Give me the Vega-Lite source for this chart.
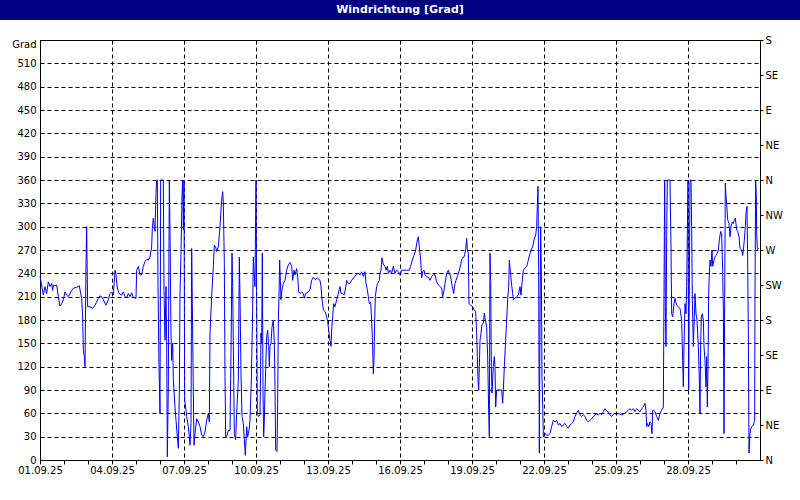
{
  "$schema": "https://vega.github.io/schema/vega-lite/v6.json",
  "padding": 0,
  "background": "white",
  "bounds": "flush",
  "center": true,
  "spacing": 20,
  "config": {
    "font": "DejaVu Sans",
    "view": {"stroke": null},
    "axis": {
      "labelFont": "DejaVu Sans", "labelFontSize": 10, "labelColor": "black",
      "titleFont": "DejaVu Sans", "titleFontSize": 10, "titleFontWeight": "normal", "titleColor": "black",
      "domainColor": "black", "tickColor": "black", "gridColor": "black"
    }
  },
  "vconcat": [
    {
      "width": 800, "height": 20,
      "view": {"fill": "#000080", "stroke": null},
      "data": {"values": [{"title": "Windrichtung [Grad]"}]},
      "mark": {"type": "text", "color": "white", "fontWeight": "bold", "fontSize": 11, "font": "DejaVu Sans", "align": "center", "baseline": "middle"},
      "encoding": {"text": {"field": "title", "type": "nominal"}}
    },
    {
      "width": 720, "height": 420,
      "view": {"stroke": "black", "strokeWidth": 1, "fill": "white"},
      "data": {"values": [
{"t":"2025-09-01T00:00","v":236},{"t":"2025-09-01T01:40","v":225},{"t":"2025-09-01T03:20","v":212},{"t":"2025-09-01T05:00","v":223},{"t":"2025-09-01T06:40","v":214},{"t":"2025-09-01T08:20","v":229},{"t":"2025-09-01T10:00","v":223},{"t":"2025-09-01T11:40","v":227},{"t":"2025-09-01T12:40","v":218},{"t":"2025-09-01T13:20","v":225},{"t":"2025-09-01T15:00","v":224},{"t":"2025-09-01T16:40","v":225},{"t":"2025-09-01T18:20","v":210},{"t":"2025-09-01T20:00","v":198},{"t":"2025-09-01T21:40","v":201},{"t":"2025-09-01T23:20","v":206},
{"t":"2025-09-02T01:00","v":216},{"t":"2025-09-02T02:40","v":212},{"t":"2025-09-02T04:20","v":210},{"t":"2025-09-02T06:00","v":214},{"t":"2025-09-02T07:40","v":218},{"t":"2025-09-02T09:20","v":221},{"t":"2025-09-02T12:40","v":222},{"t":"2025-09-02T15:20","v":224},{"t":"2025-09-02T16:40","v":214},{"t":"2025-09-02T17:40","v":208},{"t":"2025-09-02T18:40","v":184},{"t":"2025-09-02T19:20","v":141},{"t":"2025-09-02T20:20","v":133},{"t":"2025-09-02T21:00","v":120},{"t":"2025-09-02T22:00","v":253},{"t":"2025-09-02T22:40","v":300},{"t":"2025-09-02T23:40","v":197},
{"t":"2025-09-03T02:00","v":197},{"t":"2025-09-03T04:40","v":195},{"t":"2025-09-03T07:00","v":199},{"t":"2025-09-03T10:20","v":208},{"t":"2025-09-03T12:00","v":211},{"t":"2025-09-03T13:40","v":210},{"t":"2025-09-03T15:20","v":206},{"t":"2025-09-03T18:00","v":199},{"t":"2025-09-03T20:20","v":206},{"t":"2025-09-03T22:00","v":214},{"t":"2025-09-03T23:40","v":216},
{"t":"2025-09-04T01:20","v":212},{"t":"2025-09-04T03:00","v":244},{"t":"2025-09-04T04:00","v":238},{"t":"2025-09-04T05:20","v":221},{"t":"2025-09-04T07:00","v":214},{"t":"2025-09-04T09:40","v":212},{"t":"2025-09-04T11:20","v":216},{"t":"2025-09-04T13:00","v":210},{"t":"2025-09-04T14:40","v":209},{"t":"2025-09-04T16:20","v":214},{"t":"2025-09-04T18:00","v":210},{"t":"2025-09-04T19:40","v":215},{"t":"2025-09-04T21:20","v":209},
{"t":"2025-09-05T00:00","v":208},{"t":"2025-09-05T00:40","v":244},{"t":"2025-09-05T02:20","v":249},{"t":"2025-09-05T04:00","v":238},{"t":"2025-09-05T05:40","v":238},{"t":"2025-09-05T07:20","v":249},{"t":"2025-09-05T09:00","v":255},{"t":"2025-09-05T10:40","v":258},{"t":"2025-09-05T12:20","v":257},{"t":"2025-09-05T14:00","v":261},{"t":"2025-09-05T15:40","v":274},{"t":"2025-09-05T16:20","v":298},{"t":"2025-09-05T17:20","v":311},{"t":"2025-09-05T18:20","v":300},{"t":"2025-09-05T19:00","v":294},{"t":"2025-09-05T20:00","v":343},{"t":"2025-09-05T20:40","v":360},{"t":"2025-09-05T21:20","v":360},{"t":"2025-09-05T22:00","v":223},{"t":"2025-09-05T23:00","v":120},
{"t":"2025-09-06T00:00","v":60},{"t":"2025-09-06T00:40","v":360},{"t":"2025-09-06T03:20","v":360},{"t":"2025-09-06T04:00","v":218},{"t":"2025-09-06T05:00","v":154},{"t":"2025-09-06T06:00","v":223},{"t":"2025-09-06T06:40","v":154},{"t":"2025-09-06T07:20","v":4},{"t":"2025-09-06T08:20","v":94},{"t":"2025-09-06T08:40","v":193},{"t":"2025-09-06T09:20","v":360},{"t":"2025-09-06T10:00","v":294},{"t":"2025-09-06T11:00","v":163},{"t":"2025-09-06T11:40","v":128},{"t":"2025-09-06T12:40","v":150},{"t":"2025-09-06T13:20","v":103},{"t":"2025-09-06T15:00","v":68},{"t":"2025-09-06T16:00","v":51},{"t":"2025-09-06T17:20","v":30},{"t":"2025-09-06T18:20","v":15},{"t":"2025-09-06T19:20","v":86},{"t":"2025-09-06T20:00","v":214},{"t":"2025-09-06T21:00","v":266},{"t":"2025-09-06T22:00","v":339},{"t":"2025-09-06T22:40","v":360},{"t":"2025-09-06T23:20","v":296},
{"t":"2025-09-07T00:00","v":360},{"t":"2025-09-07T00:40","v":77},{"t":"2025-09-07T01:40","v":68},{"t":"2025-09-07T02:40","v":56},{"t":"2025-09-07T04:20","v":43},{"t":"2025-09-07T05:20","v":30},{"t":"2025-09-07T06:00","v":19},{"t":"2025-09-07T07:00","v":47},{"t":"2025-09-07T07:40","v":272},{"t":"2025-09-07T08:20","v":201},{"t":"2025-09-07T09:20","v":86},{"t":"2025-09-07T10:00","v":19},{"t":"2025-09-07T11:00","v":34},{"t":"2025-09-07T12:40","v":53},{"t":"2025-09-07T14:20","v":49},{"t":"2025-09-07T16:00","v":43},{"t":"2025-09-07T17:40","v":32},{"t":"2025-09-07T19:20","v":30},{"t":"2025-09-07T21:00","v":36},{"t":"2025-09-07T22:40","v":51},
{"t":"2025-09-08T00:20","v":60},{"t":"2025-09-08T01:20","v":49},{"t":"2025-09-08T02:00","v":163},{"t":"2025-09-08T03:40","v":210},{"t":"2025-09-08T05:20","v":249},{"t":"2025-09-08T06:20","v":276},{"t":"2025-09-08T07:40","v":274},{"t":"2025-09-08T08:40","v":268},{"t":"2025-09-08T10:20","v":274},{"t":"2025-09-08T12:00","v":300},{"t":"2025-09-08T13:40","v":334},{"t":"2025-09-08T14:40","v":345},{"t":"2025-09-08T15:20","v":330},{"t":"2025-09-08T16:20","v":253},{"t":"2025-09-08T17:00","v":107},{"t":"2025-09-08T17:40","v":30},{"t":"2025-09-08T18:40","v":30},{"t":"2025-09-08T20:20","v":38},{"t":"2025-09-08T22:00","v":38},{"t":"2025-09-08T23:00","v":137},
{"t":"2025-09-09T00:00","v":266},{"t":"2025-09-09T00:40","v":223},{"t":"2025-09-09T01:20","v":146},{"t":"2025-09-09T02:20","v":34},{"t":"2025-09-09T03:40","v":26},{"t":"2025-09-09T04:40","v":60},{"t":"2025-09-09T06:20","v":103},{"t":"2025-09-09T07:20","v":261},{"t":"2025-09-09T08:00","v":210},{"t":"2025-09-09T09:00","v":111},{"t":"2025-09-09T10:00","v":56},{"t":"2025-09-09T11:20","v":47},{"t":"2025-09-09T12:20","v":26},{"t":"2025-09-09T13:20","v":6},{"t":"2025-09-09T14:40","v":43},{"t":"2025-09-09T15:40","v":30},{"t":"2025-09-09T17:00","v":38},{"t":"2025-09-09T18:00","v":51},{"t":"2025-09-09T19:20","v":103},{"t":"2025-09-09T20:40","v":193},{"t":"2025-09-09T21:20","v":261},{"t":"2025-09-09T22:00","v":244},{"t":"2025-09-09T23:00","v":223},{"t":"2025-09-09T23:20","v":274},
{"t":"2025-09-10T00:00","v":360},{"t":"2025-09-10T00:40","v":201},{"t":"2025-09-10T01:20","v":60},{"t":"2025-09-10T02:20","v":56},{"t":"2025-09-10T04:00","v":58},{"t":"2025-09-10T05:00","v":163},{"t":"2025-09-10T05:40","v":150},{"t":"2025-09-10T06:20","v":266},{"t":"2025-09-10T07:00","v":90},{"t":"2025-09-10T07:40","v":30},{"t":"2025-09-10T08:20","v":51},{"t":"2025-09-10T09:00","v":90},{"t":"2025-09-10T09:40","v":116},{"t":"2025-09-10T10:40","v":159},{"t":"2025-09-10T11:40","v":167},{"t":"2025-09-10T12:40","v":146},{"t":"2025-09-10T13:20","v":120},{"t":"2025-09-10T14:00","v":146},{"t":"2025-09-10T15:00","v":150},{"t":"2025-09-10T16:00","v":171},{"t":"2025-09-10T17:20","v":180},{"t":"2025-09-10T18:20","v":150},{"t":"2025-09-10T19:00","v":94},{"t":"2025-09-10T19:40","v":13},{"t":"2025-09-10T21:00","v":11},{"t":"2025-09-10T21:40","v":73},{"t":"2025-09-10T22:20","v":180},{"t":"2025-09-10T23:00","v":210},{"t":"2025-09-10T23:40","v":257},
{"t":"2025-09-11T00:20","v":231},{"t":"2025-09-11T01:00","v":206},{"t":"2025-09-11T02:00","v":219},{"t":"2025-09-11T03:20","v":227},{"t":"2025-09-11T05:00","v":231},{"t":"2025-09-11T06:40","v":244},{"t":"2025-09-11T08:20","v":251},{"t":"2025-09-11T10:00","v":254},{"t":"2025-09-11T11:40","v":249},{"t":"2025-09-11T12:40","v":231},{"t":"2025-09-11T14:00","v":244},{"t":"2025-09-11T15:00","v":238},{"t":"2025-09-11T16:40","v":246},{"t":"2025-09-11T17:40","v":236},{"t":"2025-09-11T18:40","v":216},{"t":"2025-09-11T20:00","v":214},{"t":"2025-09-11T21:40","v":216},{"t":"2025-09-11T23:20","v":214},
{"t":"2025-09-12T00:20","v":208},{"t":"2025-09-12T01:40","v":214},{"t":"2025-09-12T04:20","v":216},{"t":"2025-09-12T06:00","v":219},{"t":"2025-09-12T07:40","v":231},{"t":"2025-09-12T09:20","v":235},{"t":"2025-09-12T11:00","v":232},{"t":"2025-09-12T13:20","v":234},{"t":"2025-09-12T16:00","v":231},{"t":"2025-09-12T17:00","v":223},{"t":"2025-09-12T18:00","v":206},{"t":"2025-09-12T19:20","v":193},{"t":"2025-09-12T21:00","v":191},{"t":"2025-09-12T22:40","v":184},{"t":"2025-09-12T23:40","v":178},
{"t":"2025-09-13T00:40","v":167},{"t":"2025-09-13T02:00","v":154},{"t":"2025-09-13T03:00","v":146},{"t":"2025-09-13T03:40","v":167},{"t":"2025-09-13T04:40","v":184},{"t":"2025-09-13T05:40","v":201},{"t":"2025-09-13T07:00","v":197},{"t":"2025-09-13T08:40","v":206},{"t":"2025-09-13T10:20","v":214},{"t":"2025-09-13T12:00","v":223},{"t":"2025-09-13T13:00","v":214},{"t":"2025-09-13T14:40","v":214},{"t":"2025-09-13T16:00","v":212},{"t":"2025-09-13T17:20","v":219},{"t":"2025-09-13T18:40","v":231},{"t":"2025-09-13T20:20","v":227},{"t":"2025-09-13T22:00","v":227},{"t":"2025-09-13T23:40","v":231},
{"t":"2025-09-14T01:20","v":234},{"t":"2025-09-14T03:00","v":236},{"t":"2025-09-14T04:40","v":239},{"t":"2025-09-14T06:20","v":240},{"t":"2025-09-14T08:00","v":238},{"t":"2025-09-14T09:40","v":242},{"t":"2025-09-14T11:20","v":236},{"t":"2025-09-14T13:00","v":242},{"t":"2025-09-14T14:00","v":227},{"t":"2025-09-14T15:20","v":219},{"t":"2025-09-14T16:20","v":210},{"t":"2025-09-14T17:20","v":201},{"t":"2025-09-14T18:40","v":203},{"t":"2025-09-14T19:40","v":180},{"t":"2025-09-14T20:40","v":146},{"t":"2025-09-14T21:20","v":111},{"t":"2025-09-14T22:00","v":128},{"t":"2025-09-14T22:40","v":180},{"t":"2025-09-14T23:20","v":210},
{"t":"2025-09-15T00:40","v":223},{"t":"2025-09-15T01:40","v":227},{"t":"2025-09-15T03:20","v":231},{"t":"2025-09-15T04:00","v":240},{"t":"2025-09-15T05:00","v":244},{"t":"2025-09-15T06:00","v":260},{"t":"2025-09-15T07:20","v":251},{"t":"2025-09-15T09:00","v":249},{"t":"2025-09-15T10:00","v":244},{"t":"2025-09-15T11:20","v":249},{"t":"2025-09-15T12:20","v":240},{"t":"2025-09-15T14:00","v":244},{"t":"2025-09-15T15:40","v":240},{"t":"2025-09-15T17:20","v":249},{"t":"2025-09-15T19:00","v":240},{"t":"2025-09-15T20:40","v":244},{"t":"2025-09-15T22:20","v":242},
{"t":"2025-09-16T00:00","v":238},{"t":"2025-09-16T01:40","v":244},{"t":"2025-09-16T06:40","v":244},{"t":"2025-09-16T09:20","v":244},{"t":"2025-09-16T10:40","v":249},{"t":"2025-09-16T12:20","v":257},{"t":"2025-09-16T14:00","v":263},{"t":"2025-09-16T15:40","v":270},{"t":"2025-09-16T17:20","v":283},{"t":"2025-09-16T18:20","v":287},{"t":"2025-09-16T19:20","v":274},{"t":"2025-09-16T20:40","v":257},{"t":"2025-09-16T21:40","v":234},{"t":"2025-09-16T22:40","v":242},
{"t":"2025-09-17T00:00","v":244},{"t":"2025-09-17T01:00","v":238},{"t":"2025-09-17T02:40","v":236},{"t":"2025-09-17T04:20","v":235},{"t":"2025-09-17T06:00","v":231},{"t":"2025-09-17T07:40","v":236},{"t":"2025-09-17T09:20","v":238},{"t":"2025-09-17T11:00","v":238},{"t":"2025-09-17T12:40","v":229},{"t":"2025-09-17T14:20","v":225},{"t":"2025-09-17T16:00","v":223},{"t":"2025-09-17T17:40","v":221},{"t":"2025-09-17T18:40","v":210},{"t":"2025-09-17T20:00","v":218},{"t":"2025-09-17T21:00","v":227},{"t":"2025-09-17T22:40","v":240},
{"t":"2025-09-18T00:20","v":244},{"t":"2025-09-18T01:20","v":240},{"t":"2025-09-18T02:40","v":236},{"t":"2025-09-18T03:40","v":227},{"t":"2025-09-18T04:40","v":221},{"t":"2025-09-18T05:40","v":214},{"t":"2025-09-18T07:00","v":227},{"t":"2025-09-18T08:00","v":231},{"t":"2025-09-18T09:20","v":236},{"t":"2025-09-18T11:20","v":244},{"t":"2025-09-18T12:40","v":251},{"t":"2025-09-18T14:00","v":259},{"t":"2025-09-18T16:00","v":261},{"t":"2025-09-18T17:40","v":270},{"t":"2025-09-18T18:40","v":285},{"t":"2025-09-18T19:20","v":270},{"t":"2025-09-18T20:20","v":266},{"t":"2025-09-18T21:00","v":201},{"t":"2025-09-18T22:40","v":199},
{"t":"2025-09-19T00:40","v":197},{"t":"2025-09-19T02:20","v":193},{"t":"2025-09-19T03:40","v":191},{"t":"2025-09-19T04:40","v":163},{"t":"2025-09-19T05:20","v":133},{"t":"2025-09-19T06:00","v":103},{"t":"2025-09-19T06:40","v":90},{"t":"2025-09-19T07:20","v":120},{"t":"2025-09-19T08:00","v":154},{"t":"2025-09-19T09:00","v":163},{"t":"2025-09-19T10:00","v":174},{"t":"2025-09-19T11:20","v":176},{"t":"2025-09-19T12:20","v":189},{"t":"2025-09-19T13:20","v":180},{"t":"2025-09-19T14:40","v":171},{"t":"2025-09-19T15:40","v":133},{"t":"2025-09-19T16:40","v":64},{"t":"2025-09-19T17:20","v":30},{"t":"2025-09-19T18:00","v":266},{"t":"2025-09-19T18:40","v":231},{"t":"2025-09-19T19:20","v":120},{"t":"2025-09-19T20:00","v":86},{"t":"2025-09-19T21:20","v":120},{"t":"2025-09-19T22:20","v":133},{"t":"2025-09-19T23:00","v":120},{"t":"2025-09-19T23:40","v":68},
{"t":"2025-09-20T00:40","v":90},{"t":"2025-09-20T04:00","v":90},{"t":"2025-09-20T05:40","v":90},{"t":"2025-09-20T06:40","v":73},{"t":"2025-09-20T07:20","v":90},{"t":"2025-09-20T08:20","v":120},{"t":"2025-09-20T09:20","v":146},{"t":"2025-09-20T10:40","v":180},{"t":"2025-09-20T11:40","v":206},{"t":"2025-09-20T12:40","v":223},{"t":"2025-09-20T13:20","v":257},{"t":"2025-09-20T14:00","v":247},{"t":"2025-09-20T15:40","v":225},{"t":"2025-09-20T16:40","v":214},{"t":"2025-09-20T17:20","v":206},{"t":"2025-09-20T19:00","v":208},{"t":"2025-09-20T20:40","v":210},{"t":"2025-09-20T22:20","v":212},
{"t":"2025-09-21T00:00","v":223},{"t":"2025-09-21T01:00","v":212},{"t":"2025-09-21T02:00","v":227},{"t":"2025-09-21T03:20","v":244},{"t":"2025-09-21T05:00","v":247},{"t":"2025-09-21T06:40","v":249},{"t":"2025-09-21T08:20","v":257},{"t":"2025-09-21T10:00","v":266},{"t":"2025-09-21T11:00","v":270},{"t":"2025-09-21T12:40","v":274},{"t":"2025-09-21T14:00","v":283},{"t":"2025-09-21T15:40","v":289},{"t":"2025-09-21T16:40","v":300},{"t":"2025-09-21T17:20","v":328},{"t":"2025-09-21T18:00","v":352},{"t":"2025-09-21T18:40","v":244},{"t":"2025-09-21T19:20","v":9},{"t":"2025-09-21T20:00","v":180},{"t":"2025-09-21T20:40","v":300},{"t":"2025-09-21T21:20","v":244},{"t":"2025-09-21T22:00","v":107},{"t":"2025-09-21T22:40","v":73},{"t":"2025-09-21T23:20","v":30},
{"t":"2025-09-22T01:00","v":34},{"t":"2025-09-22T02:40","v":32},{"t":"2025-09-22T04:20","v":32},{"t":"2025-09-22T06:00","v":34},{"t":"2025-09-22T07:40","v":43},{"t":"2025-09-22T09:20","v":51},{"t":"2025-09-22T11:00","v":49},{"t":"2025-09-22T12:40","v":51},{"t":"2025-09-22T14:20","v":45},{"t":"2025-09-22T16:00","v":47},{"t":"2025-09-22T17:40","v":43},{"t":"2025-09-22T19:20","v":45},{"t":"2025-09-22T21:00","v":47},{"t":"2025-09-22T22:40","v":43},
{"t":"2025-09-23T00:20","v":41},{"t":"2025-09-23T02:00","v":45},{"t":"2025-09-23T03:40","v":47},{"t":"2025-09-23T05:20","v":49},{"t":"2025-09-23T07:00","v":56},{"t":"2025-09-23T08:40","v":60},{"t":"2025-09-23T10:20","v":64},{"t":"2025-09-23T12:00","v":58},{"t":"2025-09-23T13:40","v":56},{"t":"2025-09-23T15:20","v":58},{"t":"2025-09-23T17:00","v":56},{"t":"2025-09-23T18:40","v":51},{"t":"2025-09-23T20:20","v":49},{"t":"2025-09-23T22:00","v":51},{"t":"2025-09-23T23:40","v":53},
{"t":"2025-09-24T01:20","v":56},{"t":"2025-09-24T03:00","v":58},{"t":"2025-09-24T04:40","v":59},{"t":"2025-09-24T06:20","v":58},{"t":"2025-09-24T08:00","v":60},{"t":"2025-09-24T09:40","v":58},{"t":"2025-09-24T11:20","v":62},{"t":"2025-09-24T13:00","v":66},{"t":"2025-09-24T14:40","v":63},{"t":"2025-09-24T16:20","v":62},{"t":"2025-09-24T18:00","v":58},{"t":"2025-09-24T19:40","v":56},{"t":"2025-09-24T21:20","v":59},{"t":"2025-09-24T23:00","v":60},
{"t":"2025-09-25T00:40","v":58},{"t":"2025-09-25T02:20","v":60},{"t":"2025-09-25T04:00","v":59},{"t":"2025-09-25T05:40","v":58},{"t":"2025-09-25T07:20","v":59},{"t":"2025-09-25T09:00","v":60},{"t":"2025-09-25T10:40","v":62},{"t":"2025-09-25T12:20","v":64},{"t":"2025-09-25T14:00","v":66},{"t":"2025-09-25T15:40","v":64},{"t":"2025-09-25T17:20","v":66},{"t":"2025-09-25T19:00","v":62},{"t":"2025-09-25T20:40","v":66},{"t":"2025-09-25T22:20","v":64},
{"t":"2025-09-26T00:00","v":62},{"t":"2025-09-26T01:40","v":66},{"t":"2025-09-26T03:20","v":68},{"t":"2025-09-26T05:00","v":73},{"t":"2025-09-26T06:00","v":64},{"t":"2025-09-26T06:40","v":43},{"t":"2025-09-26T07:40","v":47},{"t":"2025-09-26T08:40","v":43},{"t":"2025-09-26T10:00","v":49},{"t":"2025-09-26T11:00","v":47},{"t":"2025-09-26T12:00","v":34},{"t":"2025-09-26T12:40","v":64},{"t":"2025-09-26T13:40","v":64},{"t":"2025-09-26T15:00","v":62},{"t":"2025-09-26T16:40","v":56},{"t":"2025-09-26T18:20","v":51},{"t":"2025-09-26T20:00","v":60},{"t":"2025-09-26T21:40","v":64},{"t":"2025-09-26T23:20","v":68},
{"t":"2025-09-27T00:00","v":214},{"t":"2025-09-27T00:40","v":360},{"t":"2025-09-27T01:20","v":197},{"t":"2025-09-27T02:00","v":146},{"t":"2025-09-27T02:40","v":287},{"t":"2025-09-27T03:20","v":360},{"t":"2025-09-27T06:00","v":360},{"t":"2025-09-27T07:00","v":274},{"t":"2025-09-27T07:40","v":188},{"t":"2025-09-27T08:40","v":184},{"t":"2025-09-27T10:00","v":201},{"t":"2025-09-27T11:00","v":208},{"t":"2025-09-27T12:40","v":199},{"t":"2025-09-27T14:20","v":197},{"t":"2025-09-27T16:00","v":195},{"t":"2025-09-27T17:40","v":180},{"t":"2025-09-27T18:40","v":128},{"t":"2025-09-27T19:20","v":94},{"t":"2025-09-27T20:00","v":146},{"t":"2025-09-27T21:00","v":201},{"t":"2025-09-27T22:00","v":188},{"t":"2025-09-27T22:40","v":223},{"t":"2025-09-27T23:20","v":291},
{"t":"2025-09-28T00:00","v":360},{"t":"2025-09-28T00:40","v":90},{"t":"2025-09-28T01:20","v":223},{"t":"2025-09-28T02:00","v":360},{"t":"2025-09-28T03:00","v":360},{"t":"2025-09-28T03:40","v":300},{"t":"2025-09-28T04:20","v":206},{"t":"2025-09-28T05:20","v":146},{"t":"2025-09-28T06:00","v":171},{"t":"2025-09-28T07:00","v":214},{"t":"2025-09-28T08:00","v":188},{"t":"2025-09-28T09:00","v":180},{"t":"2025-09-28T10:20","v":146},{"t":"2025-09-28T11:20","v":103},{"t":"2025-09-28T12:00","v":60},{"t":"2025-09-28T12:40","v":150},{"t":"2025-09-28T13:20","v":184},{"t":"2025-09-28T14:20","v":188},{"t":"2025-09-28T15:20","v":180},{"t":"2025-09-28T16:00","v":146},{"t":"2025-09-28T17:00","v":128},{"t":"2025-09-28T18:00","v":94},{"t":"2025-09-28T18:40","v":133},{"t":"2025-09-28T19:20","v":68},{"t":"2025-09-28T20:00","v":120},{"t":"2025-09-28T20:40","v":214},{"t":"2025-09-28T21:20","v":240},{"t":"2025-09-28T22:00","v":257},{"t":"2025-09-28T23:00","v":249},
{"t":"2025-09-29T00:00","v":270},{"t":"2025-09-29T00:40","v":249},{"t":"2025-09-29T02:00","v":257},{"t":"2025-09-29T03:00","v":261},{"t":"2025-09-29T04:00","v":263},{"t":"2025-09-29T05:20","v":266},{"t":"2025-09-29T06:20","v":270},{"t":"2025-09-29T07:20","v":283},{"t":"2025-09-29T08:40","v":294},{"t":"2025-09-29T09:40","v":291},{"t":"2025-09-29T10:40","v":244},{"t":"2025-09-29T11:20","v":193},{"t":"2025-09-29T12:00","v":34},{"t":"2025-09-29T12:40","v":206},{"t":"2025-09-29T13:20","v":356},{"t":"2025-09-29T14:00","v":339},{"t":"2025-09-29T14:40","v":330},{"t":"2025-09-29T15:40","v":309},{"t":"2025-09-29T17:00","v":304},{"t":"2025-09-29T18:00","v":287},{"t":"2025-09-29T19:00","v":300},{"t":"2025-09-29T20:20","v":306},{"t":"2025-09-29T21:20","v":304},{"t":"2025-09-29T22:20","v":309},{"t":"2025-09-29T23:20","v":311},
{"t":"2025-09-30T00:40","v":296},{"t":"2025-09-30T01:40","v":294},{"t":"2025-09-30T03:00","v":287},{"t":"2025-09-30T04:00","v":272},{"t":"2025-09-30T05:40","v":270},{"t":"2025-09-30T06:40","v":263},{"t":"2025-09-30T07:20","v":270},{"t":"2025-09-30T08:20","v":283},{"t":"2025-09-30T09:20","v":300},{"t":"2025-09-30T10:00","v":317},{"t":"2025-09-30T11:00","v":326},{"t":"2025-09-30T11:40","v":257},{"t":"2025-09-30T12:20","v":163},{"t":"2025-09-30T13:00","v":9},{"t":"2025-09-30T14:00","v":34},{"t":"2025-09-30T15:00","v":41},{"t":"2025-09-30T16:00","v":43},{"t":"2025-09-30T17:20","v":45},{"t":"2025-09-30T18:40","v":51},{"t":"2025-09-30T19:00","v":210},{"t":"2025-09-30T19:40","v":360},{"t":"2025-09-30T20:20","v":337},{"t":"2025-09-30T20:40","v":293},{"t":"2025-09-30T21:20","v":271},{"t":"2025-09-30T22:40","v":272}
      ]},
      "encoding": {
        "x": {
          "field": "t", "type": "temporal",
          "scale": {"domain": [{"year": 2025, "month": 9, "date": 1}, {"year": 2025, "month": 10, "date": 1}]},
          "axis": {
            "title": null,
            "values": [
              {"year":2025,"month":9,"date":1},{"year":2025,"month":9,"date":2},{"year":2025,"month":9,"date":3},{"year":2025,"month":9,"date":4},{"year":2025,"month":9,"date":5},{"year":2025,"month":9,"date":6},{"year":2025,"month":9,"date":7},{"year":2025,"month":9,"date":8},{"year":2025,"month":9,"date":9},{"year":2025,"month":9,"date":10},
              {"year":2025,"month":9,"date":11},{"year":2025,"month":9,"date":12},{"year":2025,"month":9,"date":13},{"year":2025,"month":9,"date":14},{"year":2025,"month":9,"date":15},{"year":2025,"month":9,"date":16},{"year":2025,"month":9,"date":17},{"year":2025,"month":9,"date":18},{"year":2025,"month":9,"date":19},{"year":2025,"month":9,"date":20},
              {"year":2025,"month":9,"date":21},{"year":2025,"month":9,"date":22},{"year":2025,"month":9,"date":23},{"year":2025,"month":9,"date":24},{"year":2025,"month":9,"date":25},{"year":2025,"month":9,"date":26},{"year":2025,"month":9,"date":27},{"year":2025,"month":9,"date":28},{"year":2025,"month":9,"date":29},{"year":2025,"month":9,"date":30}
            ],
            "labelExpr": "date(datum.value) % 3 == 1 ? timeFormat(datum.value, '%d.%m.%y') : ''",
            "labelOverlap": false,
            "labelFlush": false,
            "tickSize": 4,
            "labelPadding": 1,
            "grid": true,
            "gridDash": [4, 3],
            "gridOpacity": {"condition": {"test": "date(datum.value) % 3 == 1", "value": 1}, "value": 0}
          }
        }
      },
      "layer": [
        {
          "mark": {"type": "line", "color": "#0000ff", "strokeWidth": 1},
          "encoding": {
            "y": {
              "field": "v", "type": "quantitative",
              "scale": {"domain": [0, 540], "nice": false, "zero": false},
              "axis": {
                "orient": "left",
                "values": [0, 30, 60, 90, 120, 150, 180, 210, 240, 270, 300, 330, 360, 390, 420, 450, 480, 510],
                "title": "Grad", "titleAngle": 0, "titleAlign": "right", "titleBaseline": "middle",
                "titleX": -4, "titleY": 4,
                "ticks": false, "labelPadding": 4,
                "grid": true, "gridDash": [4, 3]
              }
            }
          }
        },
        {
          "mark": {"type": "line", "opacity": 0},
          "encoding": {
            "y": {
              "field": "v", "type": "quantitative",
              "scale": {"domain": [0, 540], "nice": false, "zero": false},
              "axis": {
                "orient": "right",
                "values": [0, 45, 90, 135, 180, 225, 270, 315, 360, 405, 450, 495, 540],
                "labelExpr": "['N','NE','E','SE','S','SW','W','NW'][round(datum.value / 45) % 8]",
                "title": null, "grid": false, "tickSize": 3, "labelPadding": 2
              }
            }
          }
        }
      ],
      "resolve": {"scale": {"y": "independent"}}
    }
  ]
}
